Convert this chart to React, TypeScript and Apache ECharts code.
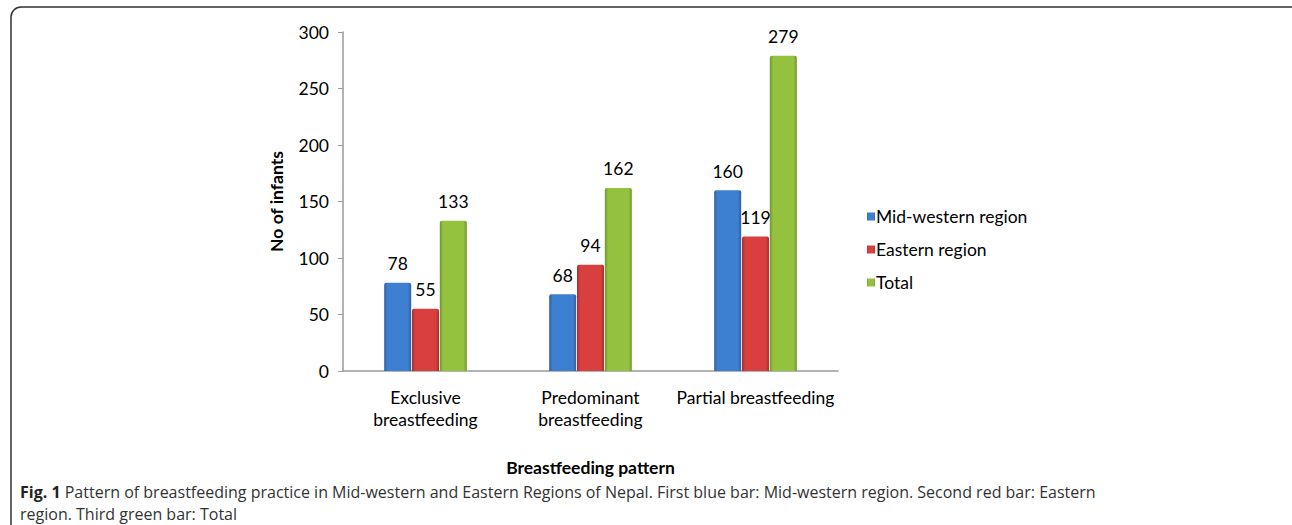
import React, { useEffect, useRef } from "react";
import * as echarts from "echarts";

const categories = ["Exclusive\nbreastfeeding", "Predominant\nbreastfeeding", "Partial breastfeeding"];
const seriesNames = ["Mid-western region", "Eastern region", "Total"];
const midWestern = [78, 68, 160];
const eastern = [55, 94, 119];
const total = [133, 162, 279];
const yTicks = { min: 0, max: 300, interval: 50 };
const captionBold = "Fig. 1";
const captionLine1 = " Pattern of breastfeeding practice in Mid-western and Eastern Regions of Nepal. First blue bar: Mid-western region. Second red bar: Eastern";
const captionLine2 = "region. Third green bar: Total";

const FONT = "Lato";
const FS = 17.5;
const CAP = 16;

function grad(dark: string, light: string) {
  return new echarts.graphic.LinearGradient(0, 0, 1, 0, [
    { offset: 0, color: dark },
    { offset: 0.12, color: light },
    { offset: 0.5, color: light },
    { offset: 0.88, color: light },
    { offset: 1, color: dark },
  ]);
}

export default function App() {
  const ref = useRef<HTMLDivElement>(null);
  useEffect(() => {
    if (!ref.current) return;
    const chart = echarts.init(ref.current, null, { renderer: "svg" });
    const colors = [
      { legend: "#3b78c6", item: grad("#2f5f9e", "#3d7fd0") },
      { legend: "#cf3a3a", item: grad("#a82d2d", "#d93f3f") },
      { legend: "#8cb83a", item: grad("#6f9430", "#94c23f") },
    ];
    const data = [midWestern, eastern, total];
    chart.setOption({
      animation: false,
      textStyle: { fontFamily: FONT },
      color: colors.map((c) => c.legend),
      grid: { left: 343, right: 454, top: 32, bottom: 154 },
      legend: {
        orient: "vertical",
        left: 862,
        top: 202,
        itemWidth: 8,
        itemHeight: 8,
        itemGap: 14,
        icon: "rect",
        textStyle: { fontSize: FS, color: "#000", fontFamily: FONT, lineHeight: 19, padding: [0, 0, 0, -4] },
        data: seriesNames,
      },
      xAxis: {
        type: "category",
        data: categories,
        name: "Breastfeeding pattern",
        nameLocation: "middle",
        nameGap: 87,
        nameTextStyle: { fontWeight: "bold", fontSize: FS, color: "#000", fontFamily: FONT },
        axisLine: { lineStyle: { color: "#9a9a9a", width: 1.5 } },
        axisTick: { show: false },
        axisLabel: { fontSize: FS, color: "#000", margin: 15, lineHeight: 22, interval: 0 },
      },
      yAxis: {
        type: "value",
        min: yTicks.min,
        max: yTicks.max,
        interval: yTicks.interval,
        name: "No of infants",
        nameLocation: "middle",
        nameGap: 58,
        nameTextStyle: { fontWeight: "bold", fontSize: FS, color: "#000", fontFamily: FONT },
        axisLine: { show: true, lineStyle: { color: "#9a9a9a", width: 1.5 } },
        axisTick: { show: true, length: 5, lineStyle: { color: "#9a9a9a" } },
        splitLine: { show: false },
        axisLabel: { fontSize: FS, color: "#000", margin: 14 },
      },
      series: seriesNames.map((name, i) => ({
        name,
        type: "bar",
        data: data[i],
        barWidth: 27,
        barGap: "3%",
        itemStyle: { color: colors[i].item, borderRadius: [2, 2, 0, 0] },
        label: { show: true, position: "top", distance: 10, fontSize: FS, color: "#000", fontFamily: FONT },
      })),
      graphic: [
        {
          type: "rect",
          shape: { x: 11, y: 7, width: 1300, height: 540, r: 10 },
          style: { fill: "none", stroke: "#333", lineWidth: 1.5 },
          silent: true,
        },
        {
          type: "text",
          style: {
            x: 20,
            y: 492,
            verticalAlign: "middle",
            text: "{b|" + captionBold + "}{n|" + captionLine1 + "}",
            rich: {
              b: { fontWeight: "bold", fontSize: CAP, fill: "#222", fontFamily: "Open Sans" },
              n: { fontSize: CAP, fill: "#333", fontFamily: "Open Sans" },
            },
          },
        },
        {
          type: "text",
          style: { x: 20, y: 514, verticalAlign: "middle", text: captionLine2, fontSize: CAP, fill: "#333", fontFamily: "Open Sans" },
        },
      ],
    });
    return () => chart.dispose();
  }, []);
  return <div ref={ref} style={{ position: "fixed", left: 0, top: 0, width: 1292, height: 525, background: "#fff" }} />;
}
